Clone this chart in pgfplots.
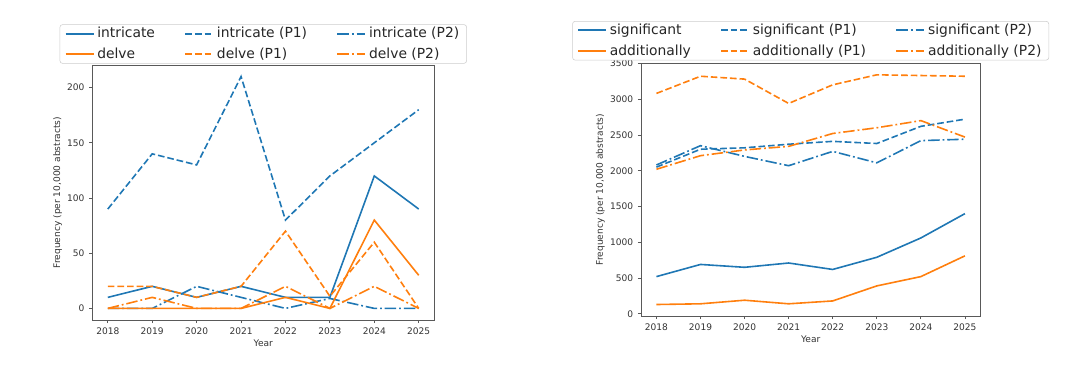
\documentclass[border=0pt]{standalone}
\usepackage{pgfplots}
\pgfplotsset{compat=1.18}
\usepackage{fontspec}
\setmainfont{DejaVu Sans}
\definecolor{tabblue}{HTML}{1F77B4}
\definecolor{taborange}{HTML}{FF7F0E}
\pgfplotsset{
  myaxis/.style={
    scale only axis,
    anchor=south west,
    xmin=2017.65, xmax=2025.35,
    xtick={2018,2019,2020,2021,2022,2023,2024,2025},
    /pgf/number format/1000 sep={},
    /pgf/number format/assume math mode=true,
    tick label style={font=\fontsize{6.8}{8}\selectfont, text=black!80},
    label style={font=\fontsize{6.8}{8}\selectfont, text=black!80},
    xlabel={Year},
    ylabel={Frequency (per 10,000 abstracts)},
    tick align=outside,
    major tick length=2.4pt,
    xtick pos=bottom, ytick pos=left,
    axis line style={black!65, line width=0.6pt},
    every tick/.style={black!65, line width=0.6pt},
    xlabel style={yshift=3pt},
    ylabel style={yshift=-3pt},
    legend columns=3,
    legend cell align=left,
    legend style={
      at={(0.5,1)}, anchor=south, yshift=1pt,
      font=\fontsize{10.4}{12}\selectfont,
      draw=black!20, rounded corners=2pt, fill=white,
      inner xsep=3.5pt, inner ysep=0pt,
      row sep=2.3pt,
      /tikz/every even column/.append style={column sep=20pt},
      text=black!85,
    },
    legend image code/.code={\draw[#1, line width=1.5pt] (0pt,0pt) -- (21pt,0pt);},
    every axis plot/.append style={line width=1.2pt},
  },
  sol/.style={solid},
  das/.style={dash pattern=on 5pt off 2.2pt},
  dd/.style={dash pattern=on 8.6pt off 2.2pt on 1.35pt off 2.2pt},
}
\begin{document}
\begin{tikzpicture}
\path[use as bounding box] (0,0) rectangle (810pt,286.5pt);
\begin{axis}[myaxis,
  at={(69.2pt,46.5pt)}, width=256.5pt, height=191.25pt,
  ymin=-10.5, ymax=220.5, ytick={0,50,100,150,200}]
\addplot[tabblue, sol] coordinates {(2018,10)(2019,20)(2020,10)(2021,20)(2022,10)(2023,10)(2024,120)(2025,90)};
\addlegendentry{intricate}
\addplot[tabblue, das] coordinates {(2018,90)(2019,140)(2020,130)(2021,210)(2022,80)(2023,120)(2024,150)(2025,180)};
\addlegendentry{intricate (P1)}
\addplot[tabblue, dd] coordinates {(2018,0)(2019,0)(2020,20)(2021,10)(2022,0)(2023,9)(2024,0)(2025,0)};
\addlegendentry{intricate (P2)}
\addplot[taborange, sol] coordinates {(2018,0)(2019,0)(2020,0)(2021,0)(2022,10)(2023,0)(2024,80)(2025,30)};
\addlegendentry{delve}
\addplot[taborange, das] coordinates {(2018,20)(2019,20)(2020,10)(2021,20)(2022,70)(2023,11)(2024,60)(2025,0)};
\addlegendentry{delve (P1)}
\addplot[taborange, dd] coordinates {(2018,0)(2019,10)(2020,0)(2021,0)(2022,20)(2023,0)(2024,20)(2025,0)};
\addlegendentry{delve (P2)}
\end{axis}
\begin{axis}[myaxis,
  at={(480.75pt,49.5pt)}, width=254.5pt, height=189.5pt,
  ymin=-30.5, ymax=3500.5, ytick={0,500,1000,1500,2000,2500,3000,3500},
  legend style={yshift=1.2pt}]
\addplot[tabblue, sol] coordinates {(2018,520)(2019,690)(2020,650)(2021,710)(2022,620)(2023,790)(2024,1060)(2025,1400)};
\addlegendentry{significant}
\addplot[tabblue, das] coordinates {(2018,2050)(2019,2300)(2020,2320)(2021,2370)(2022,2410)(2023,2380)(2024,2620)(2025,2720)};
\addlegendentry{significant (P1)}
\addplot[tabblue, dd] coordinates {(2018,2080)(2019,2350)(2020,2200)(2021,2070)(2022,2270)(2023,2110)(2024,2420)(2025,2440)};
\addlegendentry{significant (P2)}
\addplot[taborange, sol] coordinates {(2018,130)(2019,140)(2020,190)(2021,140)(2022,180)(2023,390)(2024,520)(2025,810)};
\addlegendentry{additionally}
\addplot[taborange, das] coordinates {(2018,3080)(2019,3320)(2020,3280)(2021,2940)(2022,3200)(2023,3340)(2024,3330)(2025,3320)};
\addlegendentry{additionally (P1)}
\addplot[taborange, dd] coordinates {(2018,2020)(2019,2210)(2020,2290)(2021,2340)(2022,2520)(2023,2600)(2024,2700)(2025,2470)};
\addlegendentry{additionally (P2)}
\end{axis}
\end{tikzpicture}
\end{document}
